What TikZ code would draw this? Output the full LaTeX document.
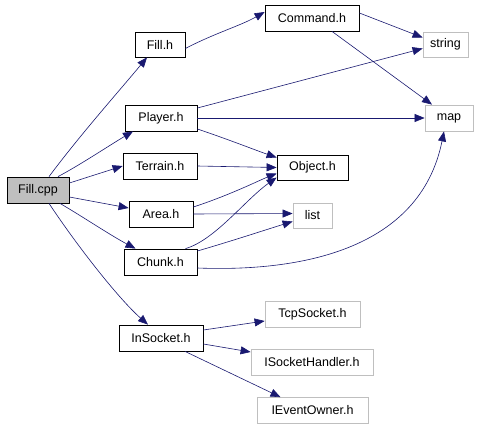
\documentclass[tikz,border=0pt]{standalone}
\usepackage{fontspec}
\setmainfont{Liberation Sans}
\usetikzlibrary{arrows.meta}
\definecolor{edgeblue}{HTML}{191970}
\definecolor{extgray}{HTML}{BFBFBF}
\begin{document}
\begin{tikzpicture}[x=1pt,y=-1pt,
  box/.style={draw=black,line width=0.8pt,inner sep=0pt,font=\fontsize{12.5}{14}\selectfont},
  ext/.style={box,draw=extgray},
  dep/.style={draw=edgeblue,line width=0.6pt,-{Triangle[length=10pt,width=8pt]}}]
\useasboundingbox (0,0) rectangle (482,426);
\node[box,fill=extgray,minimum width=62,minimum height=26] (fillcpp) at (38,190) {Fill.cpp};
\node[box,minimum width=50,minimum height=25] (fillh) at (160,44.5) {Fill.h};
\node[box,minimum width=72,minimum height=26] (player) at (161,118) {Player.h};
\node[box,minimum width=74,minimum height=26] (terrain) at (160,166) {Terrain.h};
\node[box,minimum width=64,minimum height=26] (area) at (161,214) {Area.h};
\node[box,minimum width=73,minimum height=26] (chunk) at (160.5,262) {Chunk.h};
\node[box,minimum width=84,minimum height=26] (insocket) at (161,338) {InSocket.h};
\node[box,minimum width=94,minimum height=26] (command) at (312,18) {Command.h};
\node[box,minimum width=71,minimum height=25] (object) at (312.5,167.5) {Object.h};
\node[ext,minimum width=45,minimum height=25] (string) at (445.5,44.5) {string};
\node[ext,minimum width=48,minimum height=26] (map) at (449,118) {map};
\node[ext,minimum width=39,minimum height=25] (list) at (312.5,215.5) {list};
\node[ext,minimum width=95,minimum height=26] (tcp) at (312.5,314) {TcpSocket.h};
\node[ext,minimum width=122,minimum height=26] (ish) at (312,362) {ISocketHandler.h};
\node[ext,minimum width=111,minimum height=26] (ieo) at (312.5,410.5) {IEventOwner.h};
% edges from Fill.cpp
\draw[dep] ([xshift=11]fillcpp.north) .. controls (80,135) and (120,90) .. ([xshift=-13]fillh.south);
\draw[dep] ([xshift=20]fillcpp.north) .. controls (80,165) and (110,145) .. ([xshift=-28]player.south);
\draw[dep] ([yshift=7]fillcpp.east) -- (terrain.west);
\draw[dep] ([yshift=-7]fillcpp.east) -- ([yshift=6]area.west);
\draw[dep] ([xshift=22]fillcpp.south) .. controls (80,215) and (110,235) .. ([xshift=-25]chunk.north);
\draw[dep] ([xshift=11]fillcpp.south) .. controls (80,250) and (120,300) .. ([xshift=-13]insocket.north);
% Fill.h
\draw[dep] ([yshift=-4]fillh.east) .. controls (215,33) and (240,26) .. ([yshift=6]command.west);
% Command.h
\draw[dep] ([yshift=5]command.east) -- ([yshift=7]string.west);
\draw[dep] ([xshift=20]command.south) -- ([xshift=-17]map.north);
% Player.h
\draw[dep] ([yshift=10]player.east) -- ([yshift=-4]string.west);
\draw[dep] (player.east) -- (map.west);
\draw[dep] ([yshift=-11]player.east) .. controls (230,140) and (255,150) .. ([yshift=10]object.west);
% Terrain.h
\draw[dep] (terrain.east) -- (object.west);
% Area.h
\draw[dep] ([yshift=7]area.east) .. controls (230,195) and (260,180) .. ([yshift=-6]object.west);
\draw[dep] (area.east) -- ([yshift=2]list.west);
% Chunk.h
\draw[dep] ([xshift=25]chunk.north) .. controls (215,240) and (245,200) .. ([yshift=-10]object.west);
\draw[dep] ([yshift=11]chunk.east) .. controls (235,240) and (265,230) .. ([yshift=-6]list.west);
\draw[dep] ([yshift=-6]chunk.east) .. controls (300,272) and (420,250) .. ([xshift=-5]map.south);
% InSocket.h
\draw[dep] ([yshift=8]insocket.east) -- ([yshift=-7]tcp.west);
\draw[dep] ([yshift=-6]insocket.east) -- ([yshift=10]ish.west);
\draw[dep] ([xshift=24]insocket.south) -- ([xshift=-32]ieo.north);
\end{tikzpicture}
\end{document}
